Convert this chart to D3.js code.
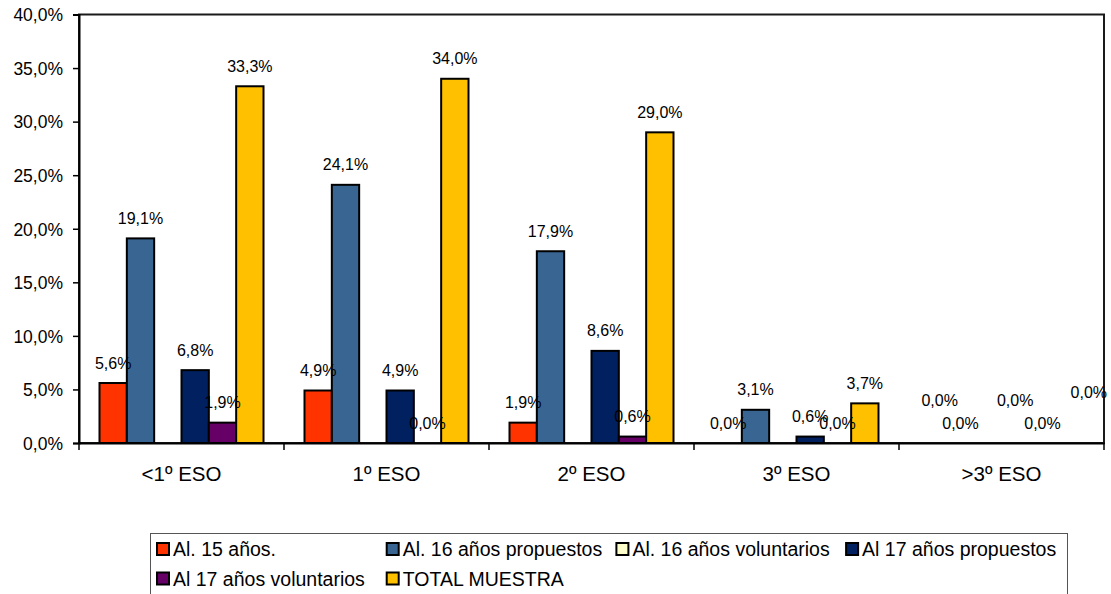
<!DOCTYPE html>
<html><head><meta charset="utf-8">
<script src="https://cdn.jsdelivr.net/npm/d3@7"></script>
<style>
html,body{margin:0;padding:0;background:#fff;}
svg{display:block;font-family:"Liberation Sans",Arial,sans-serif;}
</style></head>
<body><svg id="c" width="1111" height="594"></svg>
<script>
const categories = ["<1º ESO","1º ESO","2º ESO","3º ESO",">3º ESO"];
const seriesNames = ["Al. 15 años.","Al. 16 años propuestos","Al. 16 años voluntarios","Al 17 años propuestos","Al 17 años voluntarios","TOTAL MUESTRA"];
const al15 = [5.6, 4.9, 1.9, 0.0, 0.0];
const al16prop = [19.1, 24.1, 17.9, 3.1, 0.0];
const al16vol = [null, null, null, null, null];
const al17prop = [6.8, 4.9, 8.6, 0.6, 0.0];
const al17vol = [1.9, 0.0, 0.6, 0.0, 0.0];
const total = [33.3, 34.0, 29.0, 3.7, 0.0];
const yTicks = [0,5,10,15,20,25,30,35,40];
const yTickLabels = ["0,0%","5,0%","10,0%","15,0%","20,0%","25,0%","30,0%","35,0%","40,0%"];

const seriesValues = [al15, al16prop, al16vol, al17prop, al17vol, total];
const colors = ["#FF3300","#386592","#FFFFCC","#00205F","#660066","#FFC000"];
// manual nudges of a few data labels (series index, category index, dx, dy)
const labelNudges = [[0,4,6.5,-23],[3,4,0,-23],[5,4,19,-30.5]];

const svg = d3.select("#c");
const L=79, R=1104, T=14.5, B=443;
const x0 = d3.scaleBand().domain(categories).range([L,R]).padding(0);
const x1 = d3.scaleBand().domain(seriesNames).range([0,x0.bandwidth()]).paddingInner(0).paddingOuter(0.75);
const y = d3.scaleLinear().domain([0,40]).range([B,T]);

// plot border
svg.append("rect").attr("x",L).attr("y",T).attr("width",R-L).attr("height",B-T)
  .attr("fill","none").attr("stroke","#1a1a1a").attr("stroke-width",2);

// bars
const data = [];
seriesValues.forEach((arr,si)=>arr.forEach((v,ci)=>{ if(v!==null) data.push({si,ci,v}); }));
svg.append("g").selectAll("rect").data(data.filter(d=>d.v>0)).join("rect")
  .attr("x",d=>x0(categories[d.ci])+x1(seriesNames[d.si]))
  .attr("y",d=>y(d.v))
  .attr("width",x1.bandwidth())
  .attr("height",d=>y(0)-y(d.v))
  .attr("fill",d=>colors[d.si])
  .attr("stroke","#000").attr("stroke-width",2);

// y axis
const ya = svg.append("g").attr("transform",`translate(${L},0)`)
  .call(d3.axisLeft(y).tickValues(yTicks).tickFormat((d,i)=>yTickLabels[i]).tickSize(6).tickPadding(10));
ya.select(".domain").attr("stroke","#000").attr("stroke-width",2);
ya.selectAll(".tick line").attr("stroke","#000").attr("stroke-width",1.5);
ya.selectAll("text").attr("font-size","17.5px").attr("fill","#000").attr("font-family","Liberation Sans, Arial, sans-serif").attr("dy","0.36em");

// x axis
const xa = svg.append("g").attr("transform",`translate(0,${B})`)
  .call(d3.axisBottom(x0).tickSize(0).tickPadding(23));
xa.select(".domain").attr("stroke","#000").attr("stroke-width",2);
xa.selectAll("text").attr("font-size","20.5px").attr("fill","#000").attr("font-family","Liberation Sans, Arial, sans-serif");
const bounds = categories.map(c=>x0(c)).concat([x0(categories[categories.length-1])+x0.bandwidth()]);
xa.selectAll(".bnd").data(bounds).join("line").attr("class","bnd")
  .attr("x1",d=>d).attr("x2",d=>d).attr("y1",0).attr("y2",7)
  .attr("stroke","#000").attr("stroke-width",1.5);

// data labels
const fmt = v => v.toFixed(1).replace(".",",")+"%";
svg.append("g").selectAll("text").data(data).join("text")
  .attr("x",d=>{
    const n = labelNudges.find(k=>k[0]===d.si&&k[1]===d.ci);
    return x0(categories[d.ci])+x1(seriesNames[d.si])+x1.bandwidth()/2+(n?n[2]:0);
  })
  .attr("y",d=>{
    const n = labelNudges.find(k=>k[0]===d.si&&k[1]===d.ci);
    return y(d.v)-14.5+(n?n[3]:0);
  })
  .attr("text-anchor","middle").attr("font-size","16px").attr("fill","#000")
  .text(d=>fmt(d.v));

// legend
const lg = svg.append("g");
lg.append("rect").attr("x",150.5).attr("y",533.5).attr("width",917).attr("height",70)
  .attr("fill","#fff").attr("stroke","#555").attr("stroke-width",1);
const colW = 229.7, rowH = 29.5;
const items = lg.selectAll("g.it").data(seriesNames).join("g").attr("class","it")
  .attr("transform",(d,i)=>`translate(${156+(i%4)*colW},${542+Math.floor(i/4)*rowH})`);
items.append("rect").attr("x",1).attr("y",1).attr("width",12).attr("height",12)
  .attr("fill",(d,i)=>colors[i]).attr("stroke","#000").attr("stroke-width",2);
items.append("text").attr("x",17).attr("y",14).attr("font-size","19.5px").attr("fill","#000").text(d=>d);
</script></body></html>
